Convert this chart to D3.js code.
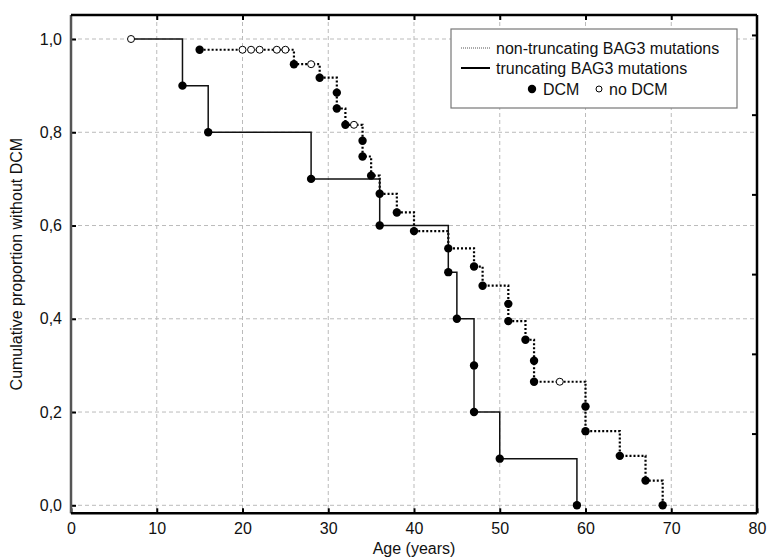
<!DOCTYPE html>
<html>
<head>
<meta charset="utf-8">
<script src="https://cdn.jsdelivr.net/npm/d3@7"></script>
<style>
  body { margin: 0; background: #fff; }
  text { font-family: "Liberation Sans", Arial, sans-serif; fill: #111; }
</style>
</head>
<body>
<svg id="kmPlot" width="769" height="560"></svg>
<script>
// truncating BAG3 mutations (solid)
const truncStart = [7, 1.0];
const truncAges = [13, 16, 28, 36, 44, 45, 47, 47, 50, 59];
const truncSurv = [0.9, 0.8, 0.7, 0.6, 0.5, 0.4, 0.3, 0.2, 0.1, 0.0];
const truncCensAges = [7];
const truncCensSurv = [1.0];

// non-truncating BAG3 mutations (dotted)
const nonAges = [15, 26, 29, 31, 31, 32, 34, 34, 35, 36, 38, 40, 44, 47, 48, 51, 51, 53, 54, 54, 60, 60, 64, 67, 69];
const nonSurv = [0.977, 0.946, 0.917, 0.885, 0.851, 0.816, 0.782, 0.748, 0.707, 0.668, 0.628, 0.588, 0.551,
  0.512, 0.471, 0.432, 0.395, 0.355, 0.310, 0.265, 0.212, 0.159, 0.106, 0.053, 0.0];
const nonCensAges = [20, 21, 22, 24, 25, 28, 33, 57];
const nonCensSurv = [0.977, 0.977, 0.977, 0.977, 0.977, 0.946, 0.816, 0.265];

const xTicks = [0, 10, 20, 30, 40, 50, 60, 70, 80];
const yTicks = [0, 0.2, 0.4, 0.6, 0.8, 1.0];
const rightTicks = [1, 2, 3, 4, 5, 6];

const margin = { top: 15, right: 12, bottom: 46.7, left: 71 };
const svg = d3.select("#kmPlot");
const width = 769 - margin.left - margin.right;
const height = 560 - margin.top - margin.bottom;

const x = d3.scaleLinear().domain([0, 80]).range([0, width]);
const y = d3.scaleLinear().domain([-0.01716, 1.0515]).range([height, 0]);
const yRight = d3.scaleLinear().domain([0, 6.25]).range([height, 0]);

const g = svg.append("g")
  .attr("transform", "translate(" + margin.left + "," + margin.top + ")");

// grid
g.append("g").selectAll("line").data(xTicks.slice(1, -1)).enter().append("line")
  .attr("x1", d => x(d)).attr("x2", d => x(d))
  .attr("y1", 0).attr("y2", height)
  .attr("stroke", "#bbb").attr("stroke-dasharray", "4,3");
g.append("g").selectAll("line").data(yTicks).enter().append("line")
  .attr("x1", 0).attr("x2", width)
  .attr("y1", d => y(d)).attr("y2", d => y(d))
  .attr("stroke", "#bbb").attr("stroke-dasharray", "4,3");

// axes, ticks pointing inward
function styleAxis(sel) {
  sel.select(".domain").remove();
  sel.selectAll(".tick line").attr("stroke", "#000").attr("stroke-width", 2);
  sel.selectAll(".tick text").style("font-size", "16px").attr("fill", "#111");
}
g.append("g").attr("transform", "translate(0," + height + ")")
  .call(d3.axisBottom(x).tickValues(xTicks).tickSizeInner(-5).tickSizeOuter(0).tickPadding(9))
  .call(styleAxis);
g.append("g")
  .call(d3.axisTop(x).tickValues(xTicks.slice(1, -1)).tickSizeInner(-5).tickSizeOuter(0).tickFormat(""))
  .call(styleAxis);
g.append("g")
  .call(d3.axisLeft(y).tickValues(yTicks).tickSizeInner(-5).tickSizeOuter(0).tickPadding(9)
    .tickFormat(d => d3.format(".1f")(d).replace(".", ",")))
  .call(styleAxis);
g.append("g").attr("transform", "translate(" + width + ",0)")
  .call(d3.axisRight(yRight).tickValues(rightTicks).tickSizeInner(-5).tickSizeOuter(0).tickFormat(""))
  .call(styleAxis);

// step curves
const line = d3.line().x(d => x(d[0])).y(d => y(d[1])).curve(d3.curveStepAfter);
const truncPts = [truncStart].concat(truncAges.map((a, i) => [a, truncSurv[i]]));
const nonPts = nonAges.map((a, i) => [a, nonSurv[i]]);

g.append("path").attr("d", line(nonPts))
  .attr("fill", "none").attr("stroke", "#000").attr("stroke-width", 2.2)
  .attr("stroke-dasharray", "2,2");
g.append("path").attr("d", line(truncPts))
  .attr("fill", "none").attr("stroke", "#111").attr("stroke-width", 1.5);

// event dots and censored circles
function drawFilled(ages, surv) {
  g.append("g").selectAll("circle").data(ages).enter().append("circle")
    .attr("cx", d => x(d)).attr("cy", (d, i) => y(surv[i]))
    .attr("r", 4.2).attr("fill", "#000");
}
function drawOpen(ages, surv) {
  g.append("g").selectAll("circle").data(ages).enter().append("circle")
    .attr("cx", d => x(d)).attr("cy", (d, i) => y(surv[i]))
    .attr("r", 3.5).attr("fill", "#fff").attr("stroke", "#000").attr("stroke-width", 1);
}
drawFilled(truncAges, truncSurv);
drawFilled(nonAges, nonSurv);
drawOpen(truncCensAges, truncCensSurv);
drawOpen(nonCensAges, nonCensSurv);

// frame
g.append("line").attr("x1", 0).attr("x2", 0).attr("y1", 0).attr("y2", height)
  .attr("stroke", "#555").attr("stroke-width", 2.5);
g.append("line").attr("x1", 0).attr("x2", width).attr("y1", 0).attr("y2", 0)
  .attr("stroke", "#000").attr("stroke-width", 2.5);
g.append("line").attr("x1", width).attr("x2", width).attr("y1", 0).attr("y2", height)
  .attr("stroke", "#000").attr("stroke-width", 2.5);
g.append("line").attr("x1", 0).attr("x2", width).attr("y1", height).attr("y2", height)
  .attr("stroke", "#000").attr("stroke-width", 2.5);

// legend
const leg = svg.append("g").attr("transform", "translate(451,29)");
leg.append("rect").attr("width", 286).attr("height", 79)
  .attr("fill", "#fff").attr("stroke", "#777").attr("stroke-width", 1.2);
leg.append("line").attr("x1", 10).attr("x2", 39).attr("y1", 19).attr("y2", 19)
  .attr("stroke", "#555").attr("stroke-width", 1).attr("stroke-dasharray", "1,1");
leg.append("line").attr("x1", 10).attr("x2", 39).attr("y1", 39).attr("y2", 39)
  .attr("stroke", "#000").attr("stroke-width", 2);
leg.append("text").attr("x", 45).attr("y", 24.5).style("font-size", "16px")
  .text("non-truncating BAG3 mutations");
leg.append("text").attr("x", 45).attr("y", 44.5).style("font-size", "16px")
  .text("truncating BAG3 mutations");
leg.append("circle").attr("cx", 81).attr("cy", 60).attr("r", 4.2).attr("fill", "#000");
leg.append("text").attr("x", 92).attr("y", 65.5).style("font-size", "16px").text("DCM");
leg.append("circle").attr("cx", 148).attr("cy", 60).attr("r", 3).attr("fill", "#fff")
  .attr("stroke", "#000").attr("stroke-width", 1);
leg.append("text").attr("x", 158).attr("y", 65.5).style("font-size", "16px").text("no DCM");

// axis titles
svg.append("text").attr("x", margin.left + width / 2).attr("y", 554)
  .attr("text-anchor", "middle").style("font-size", "16px").text("Age (years)");
svg.append("text").attr("transform", "translate(22," + (margin.top + height / 2) + ") rotate(-90)")
  .attr("text-anchor", "middle").style("font-size", "16px").text("Cumulative proportion without DCM");
</script>
</body>
</html>
